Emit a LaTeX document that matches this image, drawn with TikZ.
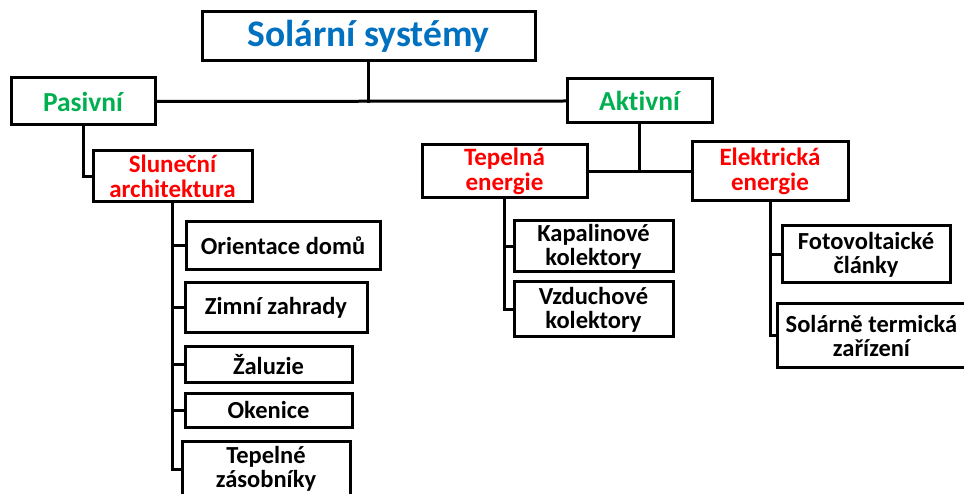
\documentclass[tikz,border=0pt]{standalone}
\usepackage{fontspec}
\setmainfont{Carlito}[Ligatures={NoCommon}]
\definecolor{tblue}{RGB}{0,112,192}
\definecolor{tgreen}{RGB}{0,176,80}
\definecolor{tred}{RGB}{255,0,0}
\begin{document}
\begin{tikzpicture}[x=1pt,y=-1pt,
  box/.style={draw=black,line width=3pt,fill=white,inner sep=0pt,align=center,rectangle,font=\bfseries},
  conn/.style={line width=3pt,line cap=rect},
  leaf/.style={box,font=\fontsize{24.5}{24}\selectfont\bfseries},
  midbox/.style={box,text=tred,font=\fontsize{25}{25}\selectfont\bfseries},
  topbox/.style={box,text=tgreen,font=\fontsize{27.5}{28}\selectfont\bfseries}]
\useasboundingbox (0,0) rectangle (964,494);
\clip (0,0) rectangle (964,494);
\fill[white] (0,0) rectangle (964,494);
\path
 (368.5,36.5) node[box,minimum width=333pt,minimum height=49pt,text=tblue,font=\fontsize{37.5}{40}\selectfont\bfseries] (title) {Solární systémy}
 (83,101.5) node[topbox,minimum width=144pt,minimum height=47pt] (pas) {Pasivní}
 (639.5,101) node[topbox,minimum width=145pt,minimum height=44pt] (akt) {Aktivní}
 (172.5,176.5) node[midbox,minimum width=159pt,minimum height=51pt] (slun) {Sluneční\\architektura}
 (504.5,171.5) node[midbox,minimum width=165pt,minimum height=53pt] (tep) {Tepelná\\energie}
 (770,171.5) node[midbox,minimum width=156pt,minimum height=59pt] (ele) {Elektrická\\energie}
 (283,246) node[leaf,minimum width=194pt,minimum height=48pt] (ori) {Orientace domů}
 (276,308) node[leaf,minimum width=182pt,minimum height=50pt] (zim) {Zimní zahrady}
 (268.5,364.5) node[leaf,minimum width=167pt,minimum height=35pt] (zal) {Žaluzie}
 (268.5,410) node[leaf,minimum width=167pt,minimum height=34pt] (oke) {Okenice}
 (266,469) node[leaf,minimum width=168pt,minimum height=56pt] (tzas) {Tepelné\\zásobníky}
 (593.5,246.5) node[leaf,minimum width=159pt,minimum height=51pt] (kap) {Kapalinové\\kolektory}
 (593.5,309.5) node[leaf,minimum width=159pt,minimum height=55pt] (vzd) {Vzduchové\\kolektory}
 (866,254.5) node[leaf,minimum width=168pt,minimum height=57pt] (fot) {Fotovoltaické\\články}
 (871.5,335.5) node[leaf,minimum width=189pt,minimum height=63pt] (sol) {Solárně termická\\zařízení};
\draw[conn] (title.south) -- (title.south |- pas.east);
\draw[conn] (pas.east) -- (akt.west);
\draw[conn] (pas.south) |- (slun.west);
\draw[conn] (akt.south) -- (akt.south |- tep.east);
\draw[conn] (tep.east) -- (ele.west);
\foreach \c in {ori,zim,zal,oke,tzas} \draw[conn] (slun.south) |- (\c.west);
\foreach \c in {kap,vzd} \draw[conn] (tep.south) |- (\c.west);
\foreach \c in {fot,sol} \draw[conn] (ele.south) |- (\c.west);
\end{tikzpicture}
\end{document}
